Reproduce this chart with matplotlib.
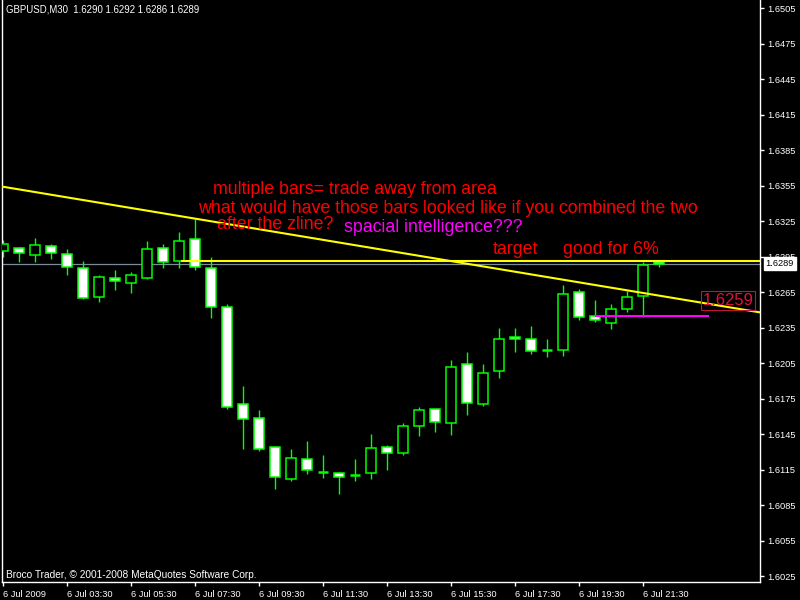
import numpy as np
import matplotlib.pyplot as plt
from matplotlib.ticker import FixedLocator

# GBPUSD M30 bars, 6 Jul 2009 01:30 .. 22:00
opens = [1.6300, 1.6302, 1.6296, 1.6304, 1.6297, 1.6285, 1.6261, 1.6277, 1.6273, 1.6277,
         1.6302, 1.6291, 1.6310, 1.6285, 1.6252, 1.6170, 1.6159, 1.6134, 1.6107, 1.6124,
         1.6113, 1.6112, 1.6110, 1.6112, 1.6134, 1.6129, 1.6152, 1.6166, 1.6154, 1.6204,
         1.6170, 1.6198, 1.6227, 1.6225, 1.6216, 1.6216, 1.6265, 1.6245, 1.6239, 1.6251,
         1.6262, 1.6290]
highs = [1.6309, 1.6303, 1.6311, 1.6306, 1.6301, 1.6291, 1.6279, 1.6284, 1.6282, 1.6308,
         1.6306, 1.6316, 1.6327, 1.6295, 1.6255, 1.6186, 1.6165, 1.6134, 1.6132, 1.6139,
         1.6127, 1.6113, 1.6124, 1.6145, 1.6136, 1.6154, 1.6168, 1.6166, 1.6208, 1.6214,
         1.6204, 1.6235, 1.6235, 1.6236, 1.6225, 1.6271, 1.6268, 1.6258, 1.6255, 1.6266,
         1.6290, 1.6292]
lows = [1.6295, 1.6290, 1.6290, 1.6293, 1.6279, 1.6259, 1.6257, 1.6267, 1.6264, 1.6276,
        1.6285, 1.6285, 1.6284, 1.6243, 1.6166, 1.6132, 1.6131, 1.6099, 1.6105, 1.6111,
        1.6108, 1.6094, 1.6105, 1.6107, 1.6115, 1.6127, 1.6143, 1.6147, 1.6144, 1.6161,
        1.6169, 1.6192, 1.6214, 1.6213, 1.6210, 1.6211, 1.6241, 1.6240, 1.6234, 1.6248,
        1.6244, 1.6286]
closes = [1.6306, 1.6298, 1.6305, 1.6298, 1.6286, 1.6260, 1.6278, 1.6274, 1.6279, 1.6301,
          1.6290, 1.6308, 1.6286, 1.6252, 1.6168, 1.6158, 1.6132, 1.6109, 1.6125, 1.6115,
          1.6113, 1.6109, 1.6110, 1.6133, 1.6129, 1.6152, 1.6165, 1.6155, 1.6202, 1.6171,
          1.6197, 1.6225, 1.6225, 1.6215, 1.6216, 1.6263, 1.6244, 1.6241, 1.6251, 1.6261,
          1.6288, 1.6289]

time_ticks = [0, 4, 8, 12, 16, 20, 24, 28, 32, 36, 40]
time_labels = ["6 Jul 2009", "6 Jul 03:30", "6 Jul 05:30", "6 Jul 07:30", "6 Jul 09:30",
               "6 Jul 11:30", "6 Jul 13:30", "6 Jul 15:30", "6 Jul 17:30", "6 Jul 19:30",
               "6 Jul 21:30"]
price_ticks = [1.6025, 1.6055, 1.6085, 1.6115, 1.6145, 1.6175, 1.6205, 1.6235, 1.6265,
               1.6295, 1.6325, 1.6355, 1.6385, 1.6415, 1.6445, 1.6475, 1.6505]

bid = 1.6289
trend_pts = [(0, 1.6354), (41, 1.6262)]
level_line = 1.6291
level_start = 11.1
stop_line = 1.6245
stop_span = (37.0, 44.1)
price_label = 1.6259

LIME = '#00FF00'
plt.rcParams['font.family'] = ['Liberation Sans', 'DejaVu Sans']

fig = plt.figure(figsize=(8, 6), dpi=100, facecolor='black')
ax = fig.add_axes([2 / 800, 18 / 600, 758 / 800, 582 / 600], facecolor='black')

x = np.arange(len(opens))
o = np.array(opens)
h = np.array(highs)
l = np.array(lows)
c = np.array(closes)

# wicks first, bodies over them
ax.vlines(x, l, h, color=LIME, lw=1, zorder=2)
body = np.abs(c - o) >= 0.00005
fill = np.where(c < o, 'white', 'black')
ax.bar(x[body], (np.abs(c - o))[body], bottom=np.minimum(o, c)[body], width=0.66,
       color=fill[body], edgecolor=LIME, linewidth=1.1, zorder=3)
ax.hlines(c[~body], x[~body] - 0.33, x[~body] + 0.33, color=LIME, lw=1.8, zorder=3)

# bid line, trend line and horizontal levels
ax.axhline(bid, color='#7C8B9A', lw=0.9, zorder=1)
ax.axline(trend_pts[0], trend_pts[1], color='yellow', lw=1.5, zorder=4)
ax.hlines(level_line, level_start, 60, color='yellow', lw=1.5, zorder=4)
ax.hlines(stop_line, stop_span[0], stop_span[1], color='magenta', lw=1.5, zorder=4)
ax.text(45.3, price_label - 0.0001, '%.4f' % price_label, color='#DC143C', fontsize=12,
        ha='center', va='center', zorder=5,
        bbox=dict(boxstyle='square,pad=0.1', fc='none', ec='#C0143C', lw=0.8))

# notes
note_size = 12.8
red_kw = dict(color='red', fontsize=note_size, va='baseline', ha='left', zorder=6)
ax.text(13.1, 1.63478, 'multiple bars= trade away from area', **red_kw)
ax.text(12.2, 1.63318, 'what would have those bars looked like if you combined the two', **red_kw)
ax.text(13.4, 1.63183, 'after the zline?', **red_kw)
ax.text(21.3, 1.63157, 'spacial intelligence???', color='magenta', fontsize=note_size,
        va='baseline', ha='left', zorder=6)
ax.text(30.6, 1.62971, 'target', **red_kw)
ax.text(35.0, 1.62971, 'good for 6%', **red_kw)

ax.set_xlim(-0.0625, 47.3125)
ax.set_ylim(1.60200, 1.65118)

ax.spines['top'].set_visible(False)
for side in ['left', 'right', 'bottom']:
    ax.spines[side].set_color('white')
    ax.spines[side].set_linewidth(1)

ax.yaxis.tick_right()
ax.yaxis.set_major_locator(FixedLocator(price_ticks))
ax.set_yticklabels(['%.4f' % p for p in price_ticks])
ax.xaxis.set_major_locator(FixedLocator(time_ticks))
ax.set_xticklabels(time_labels, ha='left')
ax.tick_params(colors='white', labelcolor='white', labelsize=6.7, length=3, width=1,
               direction='out', pad=2)
ax.tick_params(axis='x', pad=3)

# current price box on the price scale
ax.annotate('%.4f' % bid, xy=(1.0, bid), xycoords=('axes fraction', 'data'),
            xytext=(4, 0), textcoords='offset points', fontsize=6.7, color='black',
            va='center', ha='left', annotation_clip=False, zorder=10,
            bbox=dict(boxstyle='square,pad=0.2', fc='white', ec='white'))

fig.text(6 / 800, 1 - 10 / 600, 'GBPUSD,M30  1.6290 1.6292 1.6286 1.6289', color='white',
         fontsize=6.9, va='center', ha='left')
fig.text(6 / 800, 1 - 575 / 600, 'Broco Trader, \u00a9 2001-2008 MetaQuotes Software Corp.',
         color='white', fontsize=7.3, va='center', ha='left')

fig.savefig('out.png', dpi=100, facecolor='black')
